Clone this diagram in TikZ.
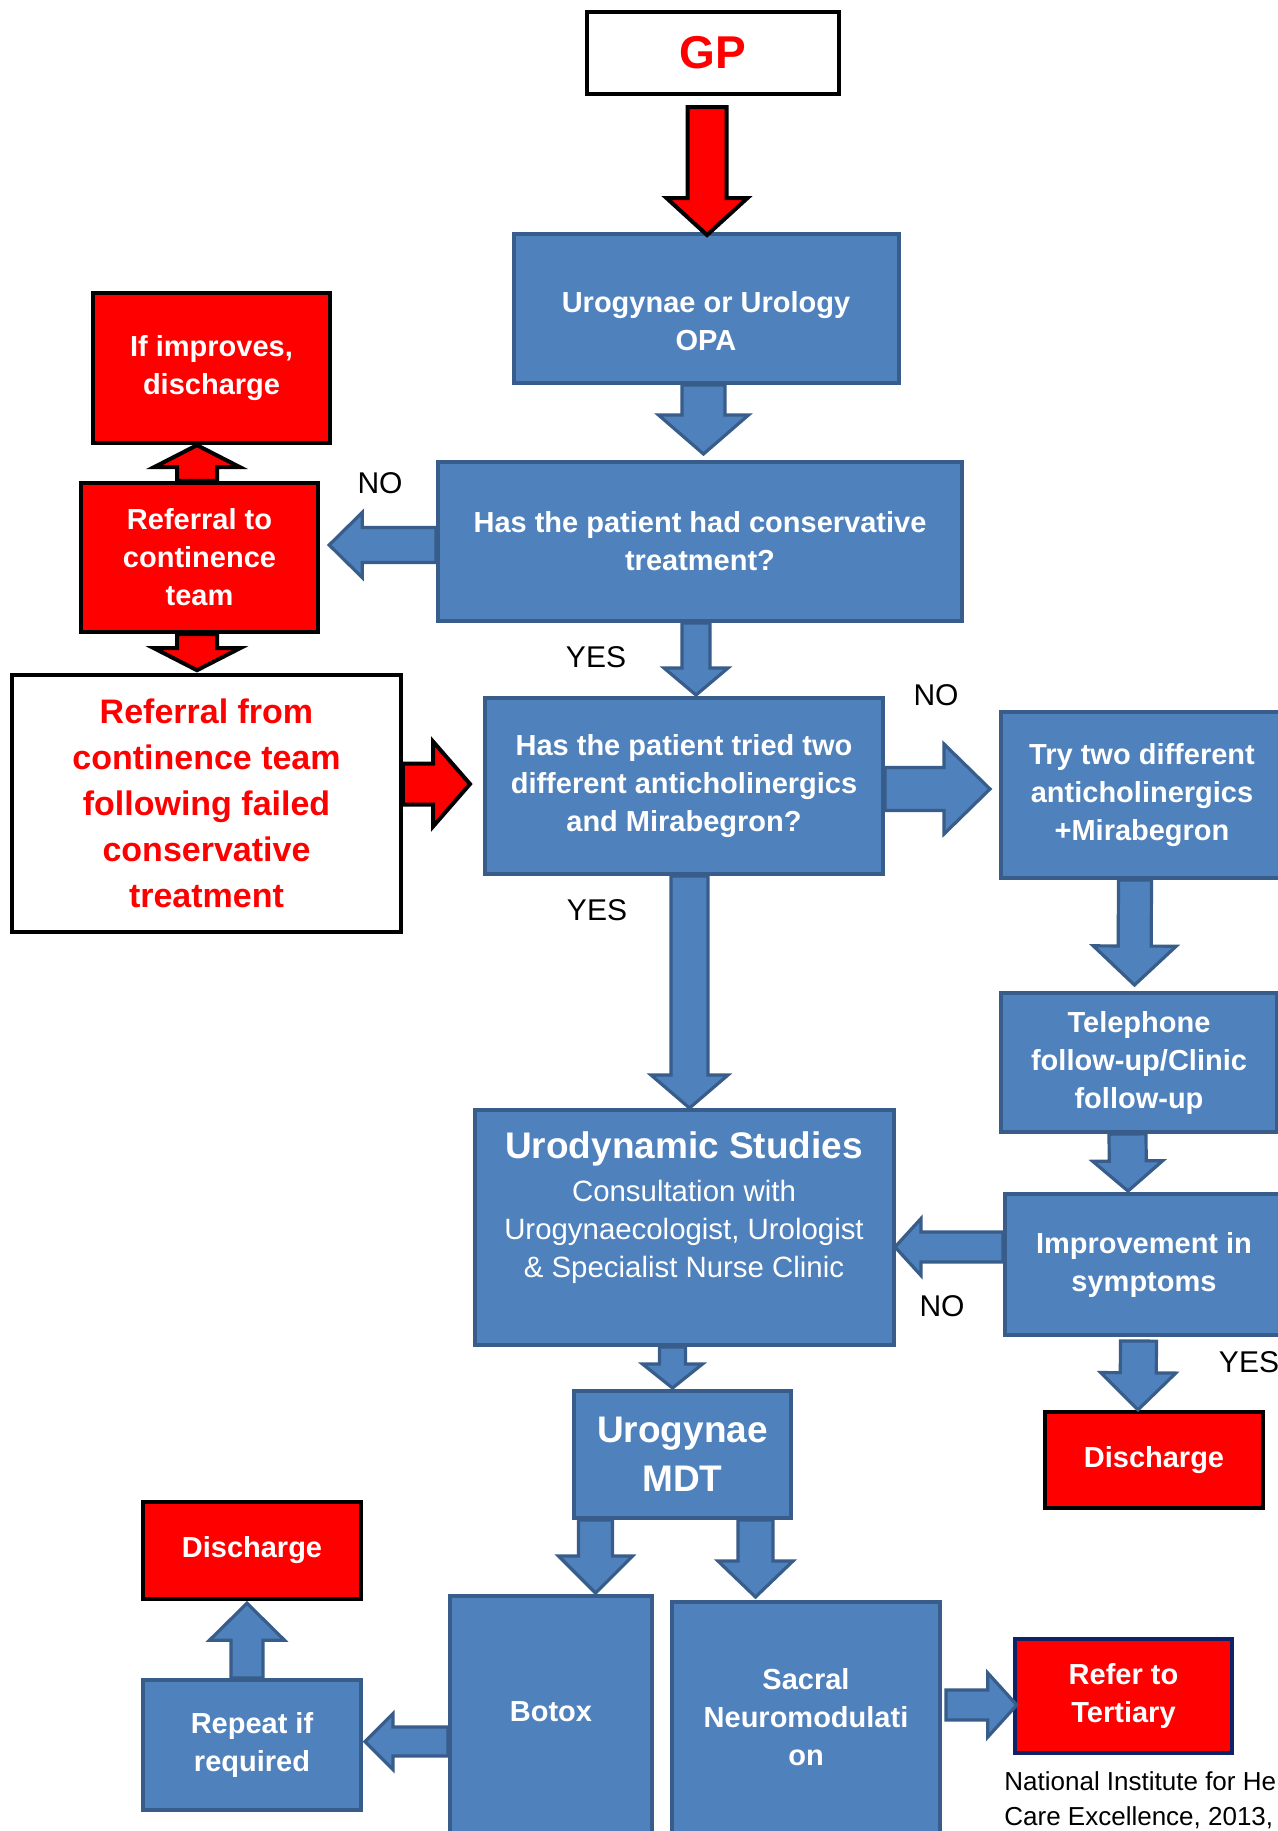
\documentclass[tikz,border=0pt]{standalone}
\usepackage{fontspec}
\setmainfont{Liberation Sans}
\usetikzlibrary{calc}
\definecolor{bfill}{HTML}{4F81BD}
\definecolor{bdraw}{HTML}{385D8A}
\definecolor{navy}{HTML}{0E2466}
\tikzset{
  bluebox/.style={rectangle, fill=bfill, draw=bdraw, line width=2pt, inner sep=0pt},
  redbox/.style={rectangle, fill=red, draw=black, line width=2.2pt, inner sep=0pt},
  whitebox/.style={rectangle, fill=white, draw=black, line width=2pt, inner sep=0pt},
  wtxt/.style={text=white, font=\bfseries\fontsize{14.5}{19}\selectfont, align=center},
  bigtxt/.style={text=white, font=\bfseries\fontsize{18.5}{24.5}\selectfont, align=center},
  plaintxt/.style={text=white, font=\fontsize{14.7}{19}\selectfont, align=center, inner sep=0pt},
  freetxt/.style={inner sep=0pt},
  lbl/.style={font=\fontsize{15}{18}\selectfont, inner sep=0pt},
  bluearrow/.style={fill=bfill, draw=bdraw, line width=1.6pt, line join=miter},
  redarrow/.style={fill=red, draw=black, line width=2pt, line join=miter},
}
% box: name, x1, y1, x2, y2, style, text
\newcommand\bx[7]{\node[#6, minimum width={(#4-#2)*0.5pt}, minimum height={(#5-#3)*0.5pt}] (#1) at ({(#2+#4)/2},{(#3+#5)/2}) {#7};}
% block arrow: style, start, end, shaft half, head half, head length
\newcommand\barrow[6]{%
  \coordinate (hb) at ($(#3)!#6!(#2)$);
  \draw[#1] ($(#2)!#4!90:(#3)$) -- ($(hb)!#4!90:(#3)$) -- ($(hb)!#5!90:(#3)$) -- (#3)
    -- ($(hb)!#5!-90:(#3)$) -- ($(hb)!#4!-90:(#3)$) -- ($(#2)!#4!-90:(#3)$) -- cycle;}
\begin{document}
\begin{tikzpicture}[x=0.5pt,y=-0.5pt]
\clip (0,0) rectangle (1278,1831);
\fill[white] (0,0) rectangle (1278,1831);

% boxes
\bx{gp}{587}{12}{839}{94}{whitebox,line width=2.2pt,text=red,font=\bfseries\fontsize{23}{27}\selectfont}{GP}
\bx{opa}{514}{234}{899}{383}{bluebox}{}
\node[wtxt,freetxt] (opatxt) at (706,321) {Urogynae or Urology\\OPA};
\bx{q1}{438}{462}{962}{621}{bluebox,wtxt}{Has the patient had conservative\\treatment?}
\bx{ifimp}{93}{293}{330}{443}{redbox,wtxt}{If improves,\\discharge}
\bx{refc}{81}{483}{318}{632}{redbox,wtxt}{Referral to\\continence\\team}
\bx{white}{12}{675}{401}{932}{whitebox,line width=1.8pt,text=red,font=\bfseries\fontsize{17}{23}\selectfont,align=center}{Referral from\\continence team\\following failed\\conservative\\treatment}
\bx{q2}{485}{698}{883}{874}{bluebox,wtxt}{Has the patient tried two\\different anticholinergics\\and Mirabegron?}
\bx{try}{1001}{712}{1283}{878}{bluebox,wtxt}{Try two different\\anticholinergics\\+Mirabegron}
\bx{tel}{1001}{993}{1277}{1132}{bluebox,wtxt}{Telephone\\follow-up/Clinic\\follow-up}
\bx{imp}{1005}{1194}{1283}{1335}{bluebox,wtxt}{Improvement in\\symptoms}
\bx{disR}{1045}{1412}{1263}{1508}{redbox,wtxt}{Discharge}
\bx{uro}{475}{1110}{894}{1345}{bluebox}{}
\node[bigtxt,freetxt] (urotitle) at (684,1149) {Urodynamic Studies};
\node[plaintxt] (urotxt) at (684,1232) {Consultation with\\Urogynaecologist, Urologist\\\& Specialist Nurse Clinic};
\bx{mdt}{574}{1391}{791}{1518}{bluebox,bigtxt}{Urogynae\\MDT}
\bx{botox}{450}{1596}{652}{1860}{bluebox}{}
\node[wtxt,freetxt] (botoxtxt) at (551,1712) {Botox};
\bx{sacral}{672}{1602}{940}{1860}{bluebox}{}
\node[wtxt,freetxt] (sacraltxt) at (806,1717) {Sacral\\Neuromodulati\\on};
\bx{repeat}{143}{1680}{361}{1810}{bluebox,wtxt}{Repeat if\\required}
\bx{disL}{143}{1502}{361}{1599}{redbox,wtxt}{Discharge}
\bx{tert}{1015}{1639}{1232}{1753}{redbox,draw=navy,wtxt}{Refer to\\Tertiary}

% labels
\node[lbl] (no1) at (380,483) {NO};
\node[lbl] (yes1) at (596,657) {YES};
\node[lbl] (no2) at (936,695) {NO};
\node[lbl] (yes2) at (597,910) {YES};
\node[lbl] (no3) at (942,1306) {NO};
\node[lbl] (yes3) at (1249,1362) {YES};
\node[freetxt, anchor=west, align=left, font=\fontsize{13}{17.5}\selectfont] (cite) at (1004,1800) {National Institute for He\\Care Excellence, 2013,};

% arrow end coordinates
\coordinate (a1s) at ($(gp.south)+(-6,11)$);   \coordinate (a1e) at ($(opa.north)+(0.5,3)$);
\coordinate (a2s) at ($(opa.south)+(-3,0)$);   \coordinate (a2e) at ($(q1.north)+(3.5,-6)$);
\coordinate (a3s) at ($(q1.west)+(0,3.5)$);    \coordinate (a3e) at ($(refc.east)+(9,-12.5)$);
\coordinate (a4s) at ($(refc.north)+(-2.5,0)$); \coordinate (a4e) at ($(ifimp.south)+(-14.5,0)$);
\coordinate (a5s) at ($(refc.south)+(-2.5,0)$); \coordinate (a5e) at ($(white.north)+(-9.5,-3)$);
\coordinate (a6s) at ($(white.east)+(0,-19.5)$); \coordinate (a6e) at ($(q2.west)+(-13,-2)$);
\coordinate (a7s) at ($(q1.south)+(-4,0)$);    \coordinate (a7e) at ($(q2.north)+(12,-1)$);
\coordinate (a8s) at ($(q2.east)+(0,3)$);      \coordinate (a8e) at ($(try.west)+(-9,-6)$);
\coordinate (a9s) at ($(try.south)+(-7,0)$);   \coordinate (a9e) at ($(tel.north)+(-4.5,-6)$);
\coordinate (a10s) at ($(tel.south)+(-11.5,0)$); \coordinate (a10e) at ($(imp.north)+(-16,-1)$);
\coordinate (a11s) at ($(imp.west)+(0,-17.5)$); \coordinate (a11e) at ($(uro.east)+(-1,19.5)$);
\coordinate (a12s) at ($(imp.south)+(-5.5,4)$); \coordinate (a12e) at ($(disR.north)+(-16,0)$);
\coordinate (a13s) at ($(q2.south)+(5.5,0)$);  \coordinate (a13e) at ($(uro.north)+(5,0)$);
\coordinate (a14s) at ($(uro.south)+(-12,0)$); \coordinate (a14e) at ($(mdt.north)+(-10,-1)$);
\coordinate (a15s) at ($(mdt.south)+(-87,0)$); \coordinate (a15e) at ($(botox.north)+(44.5,-1)$);
\coordinate (a16s) at ($(mdt.south)+(73,0)$);  \coordinate (a16e) at ($(sacral.north)+(-50.5,-3)$);
\coordinate (a17s) at ($(botox.west)+(0,13.5)$); \coordinate (a17e) at ($(repeat.east)+(2,-3.5)$);
\coordinate (a18s) at ($(repeat.north)+(-5,0)$); \coordinate (a18e) at ($(disL.south)+(-5,2)$);
\coordinate (a19s) at ($(sacral.east)+(4,-26)$); \coordinate (a19e) at ($(tert.west)+(4,9)$);

% arrows
\barrow{redarrow}{a1s}{a1e}{9.75pt}{20.25pt}{18.5pt}
\barrow{bluearrow}{a2s}{a2e}{10.75pt}{22.5pt}{19.5pt}
\barrow{bluearrow}{a3s}{a3e}{8.75pt}{16.25pt}{16.5pt}
\barrow{redarrow}{a4s}{a4e}{10pt}{21.5pt}{11pt}
\barrow{redarrow}{a5s}{a5e}{10pt}{21.5pt}{11pt}
\barrow{redarrow}{a6s}{a6e}{10.25pt}{21.25pt}{18.5pt}
\barrow{bluearrow}{a7s}{a7e}{7pt}{16pt}{13.5pt}
\barrow{bluearrow}{a8s}{a8e}{10.75pt}{22.5pt}{23pt}
\barrow{bluearrow}{a9s}{a9e}{8.25pt}{20.75pt}{19.5pt}
\barrow{bluearrow}{a10s}{a10e}{9.25pt}{17.5pt}{15pt}
\barrow{bluearrow}{a11s}{a11e}{7.5pt}{14.25pt}{13pt}
\barrow{bluearrow}{a12s}{a12e}{9pt}{18.75pt}{18.5pt}
\barrow{bluearrow}{a13s}{a13e}{9.25pt}{19.25pt}{16.5pt}
\barrow{bluearrow}{a14s}{a14e}{6.5pt}{15pt}{12pt}
\barrow{bluearrow}{a15s}{a15e}{8.5pt}{18.5pt}{18.5pt}
\barrow{bluearrow}{a16s}{a16e}{8.75pt}{18.75pt}{18pt}
\barrow{bluearrow}{a17s}{a17e}{7.25pt}{14pt}{14pt}
\barrow{bluearrow}{a18s}{a18e}{8pt}{18.75pt}{18.5pt}
\barrow{bluearrow}{a19s}{a19e}{7.5pt}{16pt}{14.5pt}
\end{tikzpicture}
\end{document}
